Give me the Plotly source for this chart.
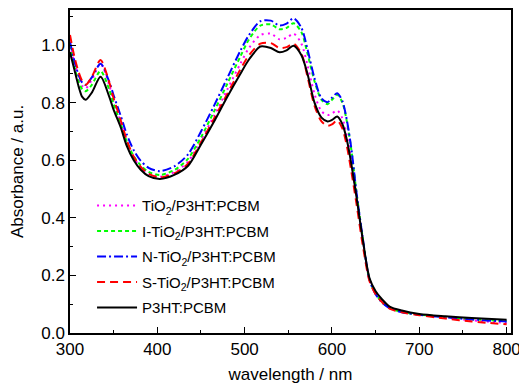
import plotly.graph_objects as go

wavelength = [300, 305, 310, 314, 318, 325, 335, 345, 350, 358, 365, 373, 381, 390, 403,
              420, 435, 450, 465, 480, 495, 505, 518, 530, 540, 548, 556, 565, 572, 580,
              588, 595, 600, 606, 612, 617, 622, 628, 635, 643, 650, 657, 666, 680, 700,
              730, 760, 800]

tio2 = [1.0, 0.94, 0.885, 0.858, 0.85, 0.88, 0.935, 0.86, 0.805, 0.733, 0.665, 0.61, 0.576,
        0.554, 0.543, 0.56, 0.595, 0.67, 0.755, 0.845, 0.935, 0.99, 1.035, 1.04, 1.02, 1.025,
        1.04, 1.005, 0.93, 0.83, 0.77, 0.757, 0.763, 0.773, 0.745, 0.685, 0.6, 0.475, 0.33,
        0.185, 0.138, 0.11, 0.088, 0.074, 0.064, 0.053, 0.044, 0.035]

i_tio2 = [1.0, 0.925, 0.872, 0.847, 0.84, 0.862, 0.91, 0.845, 0.795, 0.728, 0.665, 0.614,
          0.582, 0.56, 0.549, 0.567, 0.605, 0.68, 0.77, 0.865, 0.96, 1.02, 1.068, 1.072,
          1.055, 1.06, 1.076, 1.045, 0.97, 0.875, 0.81, 0.795, 0.81, 0.828, 0.8, 0.735, 0.64,
          0.49, 0.335, 0.185, 0.137, 0.108, 0.087, 0.073, 0.064, 0.056, 0.048, 0.041]

n_tio2 = [1.012, 0.945, 0.895, 0.87, 0.862, 0.888, 0.935, 0.872, 0.825, 0.755, 0.69, 0.635,
          0.598, 0.574, 0.562, 0.58, 0.62, 0.70, 0.79, 0.885, 0.98, 1.035, 1.083, 1.085,
          1.068, 1.075, 1.093, 1.06, 0.985, 0.885, 0.815, 0.802, 0.817, 0.833, 0.805, 0.74,
          0.645, 0.49, 0.335, 0.185, 0.135, 0.107, 0.086, 0.072, 0.063, 0.055, 0.047, 0.04]

s_tio2 = [1.035, 0.96, 0.905, 0.875, 0.862, 0.89, 0.948, 0.87, 0.815, 0.74, 0.67, 0.612,
          0.577, 0.553, 0.54, 0.555, 0.588, 0.662, 0.745, 0.83, 0.915, 0.965, 1.005, 1.007,
          0.99, 0.993, 1.005, 0.97, 0.89, 0.79, 0.735, 0.72, 0.725, 0.738, 0.71, 0.65, 0.565,
          0.45, 0.31, 0.18, 0.135, 0.108, 0.085, 0.072, 0.062, 0.05, 0.04, 0.03]

p3ht = [0.975, 0.915, 0.855, 0.82, 0.81, 0.835, 0.89, 0.82, 0.775, 0.715, 0.65, 0.60, 0.567,
        0.545, 0.535, 0.55, 0.58, 0.655, 0.735, 0.82, 0.90, 0.95, 0.995, 0.99, 0.975, 0.982,
        0.998, 0.965, 0.90, 0.80, 0.748, 0.735, 0.74, 0.752, 0.725, 0.671, 0.59, 0.474, 0.33,
        0.19, 0.145, 0.118, 0.092, 0.078, 0.066, 0.058, 0.052, 0.046]

series_names = ["TiO<sub>2</sub>/P3HT:PCBM", "I-TiO<sub>2</sub>/P3HT:PCBM",
                "N-TiO<sub>2</sub>/P3HT:PCBM", "S-TiO<sub>2</sub>/P3HT:PCBM", "P3HT:PCBM"]
series_values = [tio2, i_tio2, n_tio2, s_tio2, p3ht]
colors = ["#FF00FF", "#00FF00", "#0000FF", "#FF0000", "#000000"]
dashes = ["2px,4px", "4px,3px", "9px,3px,2px,3px", "8px,5px", "solid"]
widths = [2, 2, 2, 2, 2]

fig = go.Figure()
for i, (name, vals) in enumerate(zip(series_names, series_values)):
    fig.add_trace(go.Scatter(
        x=wavelength, y=vals, mode="lines", name=name, legendgroup=f"g{i}",
        line=dict(color=colors[i], dash=dashes[i], width=widths[i], shape="spline", smoothing=0.8),
    ))

font_family = "Arial, Liberation Sans, sans-serif"
fig.update_layout(
    width=527, height=388,
    margin=dict(l=62, r=24, t=2, b=63),
    paper_bgcolor="white", plot_bgcolor="white",
    font=dict(family=font_family, size=17, color="black"),
    showlegend=True,
    legend=dict(x=0.05, y=0.445, xanchor="left", yanchor="top",
                bgcolor="rgba(0,0,0,0)", font=dict(size=15, family=font_family),
                tracegroupgap=3, itemwidth=40),
    xaxis=dict(range=[300, 805], tickvals=[300, 400, 500, 600, 700, 800],
               ticks="inside", ticklen=6, tickwidth=1.2, tickcolor="black",
               minor=dict(ticks="inside", ticklen=3, dtick=50, tickcolor="black"),
               showline=True, linecolor="black", linewidth=1.5, mirror=True,
               showgrid=False, zeroline=False, automargin=False,
               tickfont=dict(size=17),
               title=dict(text="wavelength / nm", font=dict(size=17), standoff=10)),
    yaxis=dict(range=[0, 1.122], tickvals=[0, 0.2, 0.4, 0.6, 0.8, 1.0], tickformat=".1f",
               ticks="inside", ticklen=6, tickwidth=1.2, tickcolor="black",
               minor=dict(ticks="inside", ticklen=3, dtick=0.1, tickcolor="black"),
               showline=True, linecolor="black", linewidth=1.5, mirror=True,
               showgrid=False, zeroline=False, automargin=False,
               tickfont=dict(size=17),
               title=dict(text="Absorbance / a.u.", font=dict(size=17), standoff=13)),
)

fig.write_html("out.html")
